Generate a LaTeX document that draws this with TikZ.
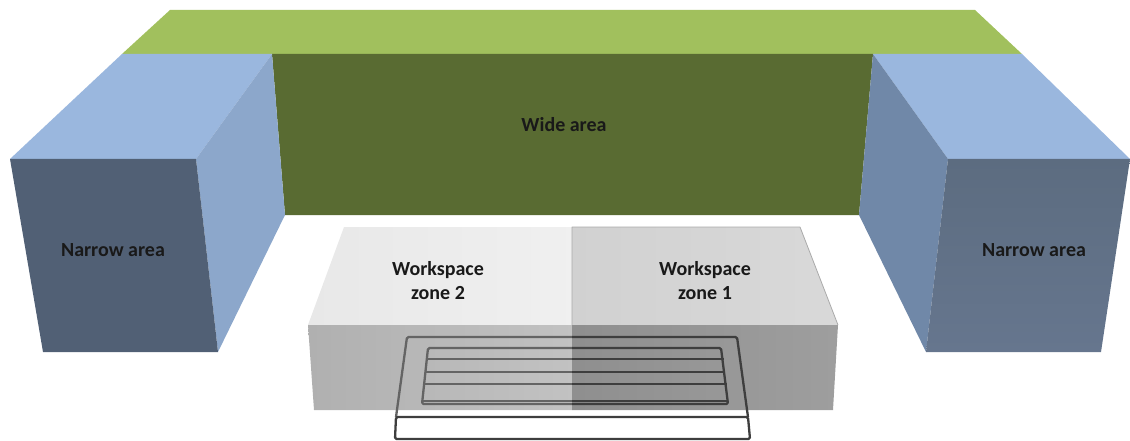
\documentclass[tikz,border=0pt]{standalone}
\usepackage{fontspec}
\usepackage{xcolor}
\setmainfont{Carlito}
\definecolor{area@green}{RGB}{161,192,93}
\definecolor{area@olive}{RGB}{89,107,50}
\definecolor{area@blue}{RGB}{154,183,222}
\definecolor{area@sideL}{RGB}{140,167,203}
\definecolor{area@sideR}{RGB}{112,136,168}
\definecolor{area@frontL}{RGB}{81,96,117}
\definecolor{area@frontTop}{RGB}{92,108,128}
\definecolor{area@frontBot}{RGB}{102,118,142}
\definecolor{zone@edge}{RGB}{170,170,170}
\definecolor{kbd@dark}{RGB}{62,62,62}
\definecolor{kbd@mid}{RGB}{100,100,100}
\tikzset{
  plan/.style={x=1pt, y=-1pt, line join=round},
  label/.style={font=\fontsize{20}{24}\selectfont\bfseries, text=black!90, align=center, inner sep=0pt},
  kbdline/.style={line width=2.3pt, rounded corners=1.5pt},
  kbdslat/.style={line width=2pt}
}
% keyboard strokes above the white front edge, in the current colour
\newcommand{\kbdtop}{
  \draw[kbdline] (396,417) -- (407,337) -- (737,337) -- (748,417);
  \draw[kbdline] (428,348) -- (721,348) -- (728,404) -- (422,404) -- cycle;
  \draw[kbdslat] (426,359) -- (724,359);
  \draw[kbdslat] (425,372) -- (725,372);
  \draw[kbdslat] (424,384) -- (727,384);
  \draw[line width=1.5pt] (422,401) -- (728,401);
}
\begin{document}
\begin{tikzpicture}[plan]
\useasboundingbox (0,0) rectangle (1130,441);

% Wide area
\fill[area@green] (170,10) -- (975,10) -- (1022,54) -- (122,54) -- cycle;
\fill[area@olive] (272,54) -- (873,54) -- (859,215) -- (285,215) -- cycle;

% Narrow area, left block
\fill[area@blue] (122,54) -- (272,54) -- (196,159) -- (10,159) -- cycle;
\fill[area@sideL] (272,54) -- (285,215) -- (218,352) -- (196,159) -- cycle;
\fill[area@frontL] (10,159) -- (196,159) -- (218,352) -- (43,352) -- cycle;

% Narrow area, right block
\fill[area@blue] (873,54) -- (1022,54) -- (1130,159) -- (948,159) -- cycle;
\fill[area@sideR] (873,54) -- (948,159) -- (926,352) -- (859,215) -- cycle;
\shade[top color=area@frontTop, bottom color=area@frontBot] (948,159) -- (1130,159) -- (1101,352) -- (926,352) -- cycle;

% Workspace block, both zones
\shade[left color=black!9, right color=black!6] (344,227) -- (572,227) -- (572,325) -- (308,325) -- cycle;
\shade[left color=black!31, right color=black!24] (308,325) -- (572,325) -- (572,410) -- (314,410) -- cycle;
\shade[left color=black!18, right color=black!15] (572,227) -- (800,227) -- (838,325) -- (572,325) -- cycle;
\shade[left color=black!44, right color=black!38] (572,325) -- (838,325) -- (833,410) -- (572,410) -- cycle;
\draw[zone@edge, line width=0.8pt] (572,325) -- (572,227) -- (800,227) -- (838,325);

% Keyboard, lighter over zone 2 and darker over zone 1
\begin{scope}
  \clip (380,330) rectangle (572,420);
  \begin{scope}[kbd@mid]
    \kbdtop
  \end{scope}
\end{scope}
\begin{scope}
  \clip (572,330) rectangle (760,420);
  \begin{scope}[kbd@dark]
    \kbdtop
  \end{scope}
\end{scope}
\draw[kbdline, kbd@dark, fill=white] (396,417) -- (748,417) -- (750,439) -- (395,439) -- cycle;

% Labels
\node[label] (wide) at (564,125) {Wide area};
\node[label] (narrowL) at (113,250) {Narrow area};
\node[label] (narrowR) at (1034,250) {Narrow area};
\node[label] (zone2) at (438,281) {Workspace\\zone 2};
\node[label] (zone1) at (705,281) {Workspace\\zone 1};

\end{tikzpicture}
\end{document}
